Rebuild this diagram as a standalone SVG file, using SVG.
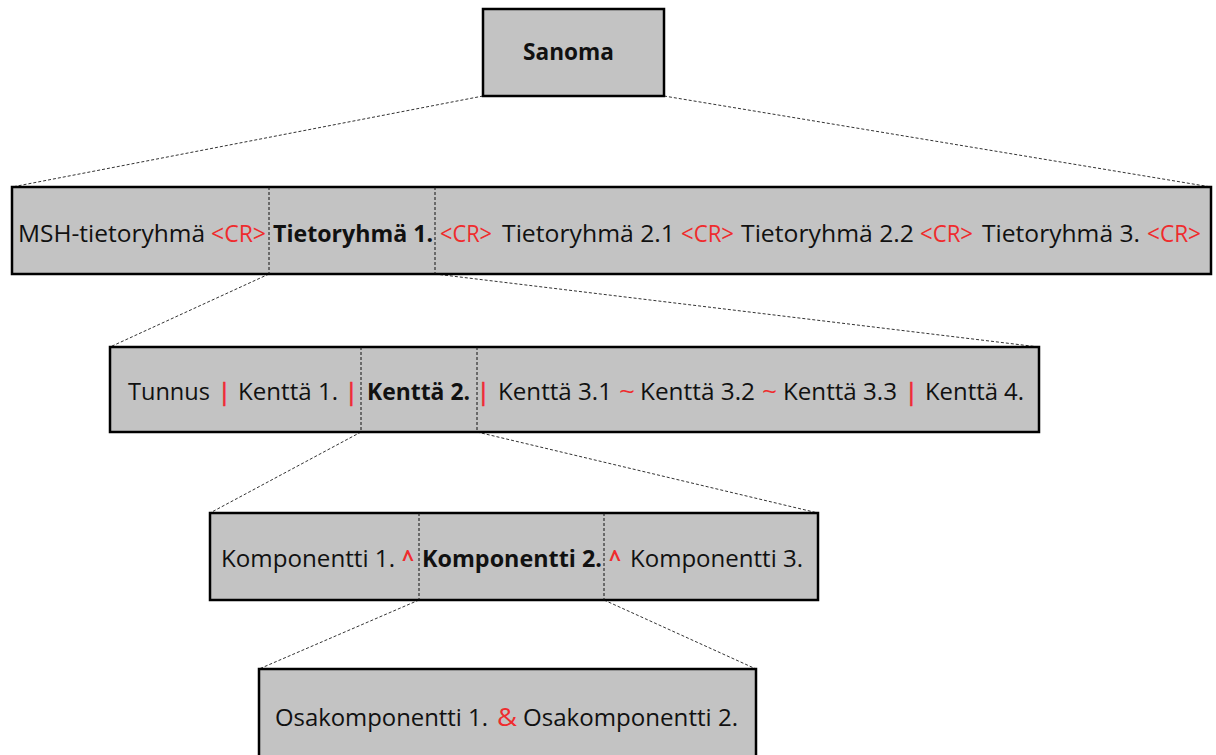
<svg xmlns="http://www.w3.org/2000/svg" width="1216" height="755" viewBox="0 0 1216 755">
<style>
.box{fill:#c3c3c3;stroke:#000;stroke-width:2.5}
.div{stroke:#111;stroke-width:1;stroke-dasharray:3 2;fill:none}
.con{stroke:#333;stroke-width:1;stroke-dasharray:3 2;fill:none}
text{font-family:"Open Sans","Noto Sans","Liberation Sans",sans-serif;font-size:23px;fill:#111}
.b{font-weight:bold}
.r{fill:#ef2b2d}
.bar{stroke:#ef2b2d;stroke-width:0.7}
</style>
<rect width="1216" height="755" fill="#fff"/>
<g id="connectors">
<line class="con" x1="483" y1="96" x2="12" y2="187"/>
<line class="con" x1="664" y1="96" x2="1211" y2="187"/>
<line class="con" x1="269" y1="274" x2="110" y2="347"/>
<line class="con" x1="435" y1="274" x2="1039" y2="347"/>
<line class="con" x1="361" y1="432" x2="210" y2="513"/>
<line class="con" x1="477" y1="432" x2="818" y2="513"/>
<line class="con" x1="419" y1="600" x2="259" y2="669"/>
<line class="con" x1="604" y1="600" x2="756" y2="669"/>
</g>
<g id="sanoma">
<rect class="box" x="483" y="9" width="181" height="87"/>
<text class="b" x="523" y="60" textLength="91" lengthAdjust="spacingAndGlyphs">Sanoma</text>
</g>
<g id="tietoryhmat">
<rect class="box" x="12" y="187" width="1199" height="87"/>
<line class="div" x1="269" y1="187" x2="269" y2="274"/>
<line class="div" x1="435" y1="187" x2="435" y2="274"/>
<text x="18" y="242" textLength="187" lengthAdjust="spacingAndGlyphs">MSH-tietoryhmä</text>
<text class="r" x="211" y="242" textLength="55" lengthAdjust="spacingAndGlyphs">&lt;CR&gt;</text>
<text class="b" x="273" y="242" textLength="160" lengthAdjust="spacingAndGlyphs">Tietoryhmä 1.</text>
<text class="r" x="440" y="242" textLength="52" lengthAdjust="spacingAndGlyphs">&lt;CR&gt;</text>
<text x="502" y="242" textLength="173" lengthAdjust="spacingAndGlyphs">Tietoryhmä 2.1</text>
<text class="r" x="681" y="242" textLength="53" lengthAdjust="spacingAndGlyphs">&lt;CR&gt;</text>
<text x="741" y="242" textLength="173" lengthAdjust="spacingAndGlyphs">Tietoryhmä 2.2</text>
<text class="r" x="920" y="242" textLength="53" lengthAdjust="spacingAndGlyphs">&lt;CR&gt;</text>
<text x="982" y="242" textLength="158" lengthAdjust="spacingAndGlyphs">Tietoryhmä 3.</text>
<text class="r" x="1147" y="242" textLength="54" lengthAdjust="spacingAndGlyphs">&lt;CR&gt;</text>
</g>
<g id="kentat">
<rect class="box" x="110" y="347" width="929" height="85"/>
<line class="div" x1="361" y1="347" x2="361" y2="432"/>
<line class="div" x1="477" y1="347" x2="477" y2="432"/>
<text x="128" y="400" textLength="82" lengthAdjust="spacingAndGlyphs">Tunnus</text>
<text class="r bar" x="218" y="400">|</text>
<text x="238" y="400" textLength="100" lengthAdjust="spacingAndGlyphs">Kenttä 1.</text>
<text class="r bar" x="345" y="400">|</text>
<text class="b" x="367" y="400" textLength="103" lengthAdjust="spacingAndGlyphs">Kenttä 2.</text>
<text class="r bar" x="477" y="400">|</text>
<text x="498" y="400" textLength="114" lengthAdjust="spacingAndGlyphs">Kenttä 3.1</text>
<text class="r" x="619" y="400" textLength="16" lengthAdjust="spacingAndGlyphs">~</text>
<text x="640" y="400" textLength="115" lengthAdjust="spacingAndGlyphs">Kenttä 3.2</text>
<text class="r" x="762" y="400" textLength="15" lengthAdjust="spacingAndGlyphs">~</text>
<text x="783" y="400" textLength="114" lengthAdjust="spacingAndGlyphs">Kenttä 3.3</text>
<text class="r bar" x="905" y="400">|</text>
<text x="925" y="400" textLength="99" lengthAdjust="spacingAndGlyphs">Kenttä 4.</text>
</g>
<g id="komponentit">
<rect class="box" x="210" y="513" width="608" height="87"/>
<line class="div" x1="419" y1="513" x2="419" y2="600"/>
<line class="div" x1="604" y1="513" x2="604" y2="600"/>
<text x="221" y="567" textLength="174" lengthAdjust="spacingAndGlyphs">Komponentti 1.</text>
<text class="r b" x="402" y="567" textLength="12" lengthAdjust="spacingAndGlyphs">^</text>
<text class="b" x="422" y="567" textLength="180" lengthAdjust="spacingAndGlyphs">Komponentti 2.</text>
<text class="r b" x="609" y="567" textLength="12" lengthAdjust="spacingAndGlyphs">^</text>
<text x="630" y="567" textLength="173" lengthAdjust="spacingAndGlyphs">Komponentti 3.</text>
</g>
<g id="osakomponentit">
<rect class="box" x="259" y="669" width="497" height="100"/>
<text x="275" y="726" textLength="213" lengthAdjust="spacingAndGlyphs">Osakomponentti 1.</text>
<text class="r" x="497" y="726" textLength="20" lengthAdjust="spacingAndGlyphs" style="font-size:25px">&amp;</text>
<text x="523" y="726" textLength="215" lengthAdjust="spacingAndGlyphs">Osakomponentti 2.</text>
</g>
</svg>
